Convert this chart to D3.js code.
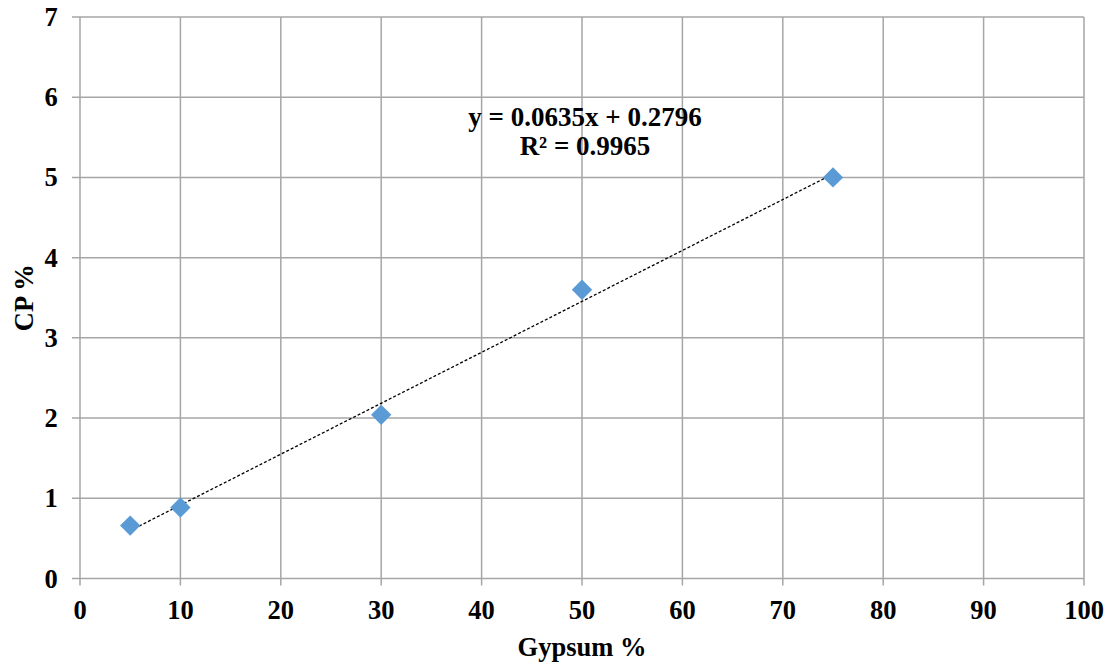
<!DOCTYPE html>
<html><head><meta charset="utf-8">
<script src="https://cdn.jsdelivr.net/npm/d3@7"></script>
<style>body{margin:0;background:#fff}svg{display:block}</style>
</head><body>
<svg id="c" width="1114" height="664"></svg>
<script>
const gypsum = [5, 10, 30, 50, 75];
const cp = [0.66, 0.885, 2.04, 3.6, 5.0];
const xTicks = [0,10,20,30,40,50,60,70,80,90,100];
const yTicks = [0,1,2,3,4,5,6,7];
const slope = 0.0635, intercept = 0.2796;
const eqLines = ["y = 0.0635x + 0.2796", "R² = 0.9965"];

const svg = d3.select("#c");
const font = "'Liberation Serif','Times New Roman',serif";
const x = d3.scaleLinear().domain([0,100]).range([80,1084]);
const y = d3.scaleLinear().domain([0,7]).range([578.5,17]);
const grid = "#a6a6a6";

// grid
svg.append("g").selectAll("line").data(xTicks).join("line")
  .attr("x1",d=>x(d)).attr("x2",d=>x(d)).attr("y1",y(7)).attr("y2",y(0)+7)
  .attr("stroke",grid).attr("stroke-width",1.5);
svg.append("g").selectAll("line").data(yTicks).join("line")
  .attr("x1",x(0)-8).attr("x2",x(100)).attr("y1",d=>y(d)).attr("y2",d=>y(d))
  .attr("stroke",grid).attr("stroke-width",1.5);

// tick labels
svg.append("g").selectAll("text").data(xTicks).join("text")
  .attr("x",d=>x(d)).attr("y",y(0)+40).attr("text-anchor","middle")
  .attr("font-family",font).attr("font-weight","bold").attr("font-size",26.5).text(d=>d);
svg.append("g").selectAll("text").data(yTicks).join("text")
  .attr("x",51).attr("y",d=>y(d)+9).attr("text-anchor","middle")
  .attr("font-family",font).attr("font-weight","bold").attr("font-size",26.5).text(d=>d);

// trendline
const tx = d3.extent(gypsum);
svg.append("line")
  .attr("x1",x(tx[0])).attr("y1",y(slope*tx[0]+intercept))
  .attr("x2",x(tx[1])).attr("y2",y(slope*tx[1]+intercept))
  .attr("stroke","#000").attr("stroke-width",1.3).attr("stroke-dasharray","3,2");

// points
svg.append("g").selectAll("rect").data(gypsum.map((g,i)=>[g,cp[i]])).join("rect")
  .attr("x",-7.2).attr("y",-7.2).attr("width",14.4).attr("height",14.4)
  .attr("transform",d=>`translate(${x(d[0])},${y(d[1])}) rotate(45)`)
  .attr("fill","#5b9bd5");

// equation
svg.append("g").selectAll("text").data(eqLines).join("text")
  .attr("x",585).attr("y",(d,i)=>126+i*29).attr("text-anchor","middle")
  .attr("font-family",font).attr("font-weight","bold").attr("font-size",27).text(d=>d);

// axis titles
svg.append("text").attr("x",x(50)).attr("y",656).attr("text-anchor","middle")
  .attr("font-family",font).attr("font-weight","bold").attr("font-size",26.5).text("Gypsum %");
svg.append("text").attr("transform",`translate(33,${(y(0)+y(7))/2}) rotate(-90)`)
  .attr("text-anchor","middle")
  .attr("font-family",font).attr("font-weight","bold").attr("font-size",26.5).text("CP %");
</script>
</body></html>
